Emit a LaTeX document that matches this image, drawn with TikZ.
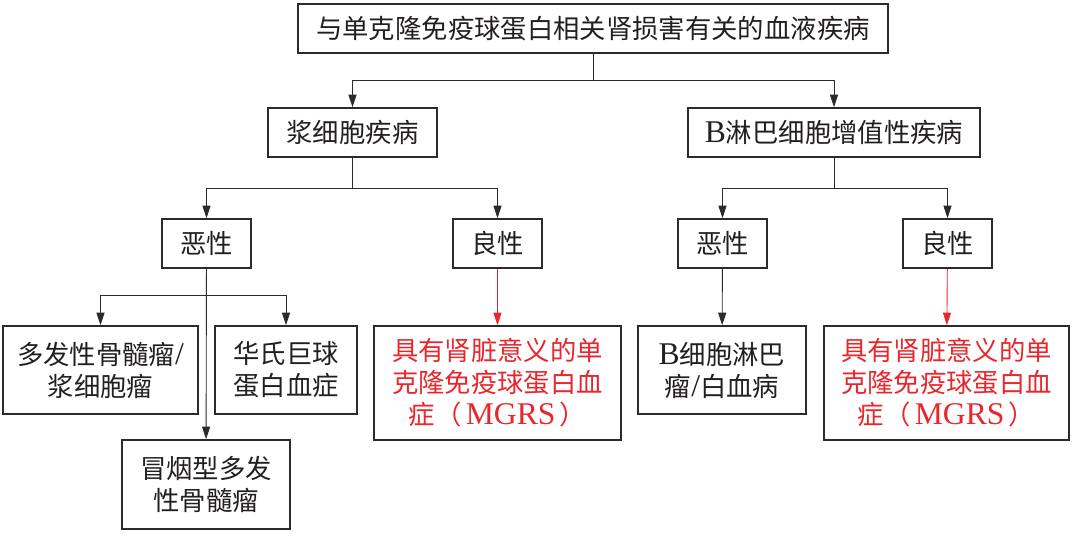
\documentclass[tikz,border=0pt]{standalone}
\usepackage{fontspec}
\setmainfont{Liberation Serif}[Scale=1.2]
\newfontfamily\cjk{Noto Sans CJK SC}
\usepackage{tikz}
\usetikzlibrary{arrows.meta}
\definecolor{HemInk}{HTML}{231F20}
\definecolor{HemLine}{HTML}{2B2B2B}
\definecolor{HemRed}{HTML}{E8262C}

\begin{document}
\begin{tikzpicture}[x=0.02cm,y=-0.02cm,
  box/.style={draw=HemLine,line width=0.9pt,text=HemInk,inner sep=0pt,align=center,
    font=\cjk\fontsize{15}{18.2}\selectfont},
  link/.style={draw=HemLine,line width=0.5pt},
  tip/.style={-{Triangle[length=0.25cm,width=0.16cm]}}]
  \useasboundingbox (0,0) rectangle (1080,538);
  % level 0 and 1
  \node[box,minimum width=11.8cm,minimum height=0.98cm] (top) at (593,28.5)
    {与单克隆免疫球蛋白相关肾损害有关的血液疾病};
  \node[box,minimum width=3.38cm,minimum height=0.98cm] (plasma) at (352.5,132.5)
    {浆细胞疾病};
  \node[box,minimum width=5.84cm,minimum height=0.98cm] (blym) at (834,132.5)
    {\textrm{B}淋巴细胞增值性疾病};
  % level 2
  \node[box,minimum width=1.78cm,minimum height=0.98cm] (pmal) at (206.5,243.5) {恶性};
  \node[box,minimum width=1.78cm,minimum height=0.98cm] (pben) at (497.5,243.5) {良性};
  \node[box,minimum width=1.78cm,minimum height=0.98cm] (bmal) at (722.5,243.5) {恶性};
  \node[box,minimum width=1.78cm,minimum height=0.98cm] (bben) at (947.5,243.5) {良性};
  % level 3
  \node[box,minimum width=3.9cm,minimum height=1.76cm] (mm) at (100.5,370)
    {多发性骨髓瘤\textrm{/}\\浆细胞瘤};
  \node[box,minimum width=2.84cm,minimum height=1.76cm] (wm) at (286,370)
    {华氏巨球\\蛋白血症};
  \node[box,minimum width=3.36cm,minimum height=1.78cm] (smm) at (206,484.5)
    {冒烟型多发\\性骨髓瘤};
  \node[box,minimum width=4.94cm,minimum height=2.28cm,text=HemRed] (mgrsa) at (497.5,383)
    {具有肾脏意义的单\\克隆免疫球蛋白血\\症（\,\textrm{MGRS}\,）};
  \node[box,minimum width=3.36cm,minimum height=1.76cm] (bcl) at (722,370)
    {\textrm{B}细胞淋巴\\瘤\textrm{/}白血病};
  \node[box,minimum width=4.9cm,minimum height=2.28cm,text=HemRed] (mgrsb) at (946.5,383)
    {具有肾脏意义的单\\克隆免疫球蛋白血\\症（\,\textrm{MGRS}\,）};
  % junctions
  \coordinate (j0) at (593,80);
  \coordinate (j1) at (352.5,188);
  \coordinate (j2) at (834,188);
  \coordinate (j3) at (206.5,295);
  % connectors
  \draw[link] (top.south -| j0) -- (j0);
  \draw[link,tip] (j0) -| (plasma);
  \draw[link,tip] (j0) -| (blym);
  \draw[link] (plasma) -- (j1);
  \draw[link,tip] (j1) -| (pmal);
  \draw[link,tip] (j1) -| (pben);
  \draw[link] (blym) -- (j2);
  \draw[link,tip] (j2) -| (bmal);
  \draw[link,tip] (j2) -| (bben);
  \draw[link,tip] (pmal) -- (smm);
  \draw[link,tip] (j3) -| (mm);
  \draw[link,tip] (j3) -| (wm);
  \draw[link,tip,draw=HemRed] (pben) -- (mgrsa);
  \draw[link,tip] (bmal) -- (bcl);
  \draw[link,tip,draw=HemRed] (bben) -- (mgrsb);
\end{tikzpicture}
\end{document}
